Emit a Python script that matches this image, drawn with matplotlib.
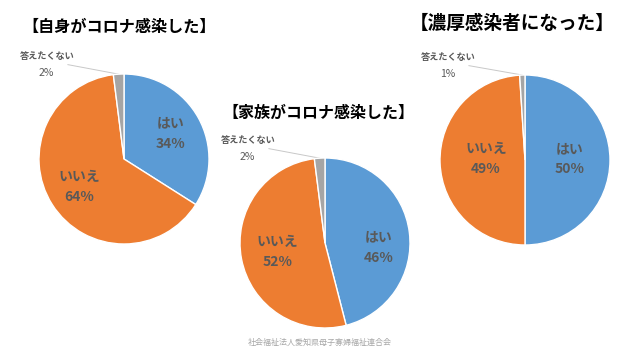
import matplotlib.pyplot as plt
import numpy as np

plt.rcParams['font.family'] = ['Noto Sans CJK JP', 'DejaVu Sans']

categories = ['はい', 'いいえ', '答えたくない']
titles = ['【自身がコロナ感染した】', '【家族がコロナ感染した】', '【濃厚感染者になった】']
values_self = [34, 64, 2]
values_family = [46, 52, 2]
values_close = [50, 49, 1]
footer = '社会福祉法人愛知県母子寡婦福祉連合会'

colors = ['#5B9BD5', '#ED7D31', '#A5A5A5']
label_color = '#595959'

W, H = 640, 360
fig = plt.figure(figsize=(W / 100, H / 100), dpi=100)
fig.patch.set_facecolor('white')

R = 85
# (center x, center y, title x, title y, title size) in pixels, y from top
layout = [
    (124, 159, 119, 27, 11.6),
    (325, 243, 318, 113, 11.5),
    (525, 160, 512, 23, 13.4),
]
# per-pie tweaks of inner label position (angle offset deg, radius)
inner_pos = [
    [(0, 0.62), (0, 0.62)],
    [(-12, 0.63), (0, 0.57)],
    [(1, 0.53), (-3, 0.46)],
]

for vals, title, (cx, cy, tx, ty, ts), ipos in zip(
        [values_self, values_family, values_close], titles, layout, inner_pos):
    ax = fig.add_axes([(cx - R) / W, (H - cy - R) / H, 2 * R / W, 2 * R / H])
    wedges, _ = ax.pie(vals, colors=colors, startangle=90, counterclock=False,
                       radius=1, wedgeprops=dict(edgecolor='white', linewidth=1))
    ax.set_xlim(-1, 1)
    ax.set_ylim(-1, 1)
    ax.set_aspect('auto')
    ax.axis('off')

    for i in range(2):
        w = wedges[i]
        mid = np.deg2rad((w.theta1 + w.theta2) / 2 + ipos[i][0])
        r = ipos[i][1]
        ax.text(r * np.cos(mid), r * np.sin(mid),
                f'{categories[i]}\n{vals[i]}%', ha='center', va='center',
                fontsize=10, fontweight='bold', color=label_color,
                linespacing=1.55)

    # small outside label with leader line
    w = wedges[2]
    mid = np.deg2rad((w.theta1 + w.theta2) / 2)
    ax.plot([-0.66, np.cos(mid)], [1.11, np.sin(mid)], color='#c8c8c8',
            lw=0.7, clip_on=False, zorder=0)
    ax.text(-0.9, 1.21, categories[2], ha='center', va='center',
            fontsize=6.6, fontweight='bold', color=label_color)
    ax.text(-0.91, 1.015, f'{vals[2]}%', ha='center', va='center',
            fontsize=7.5, color=label_color)

    fig.text(tx / W, 1 - ty / H, title, ha='center', va='center',
             fontsize=ts, fontweight='bold', color='black')

fig.text(320 / W, 1 - 342 / H, footer, ha='center', va='center',
         fontsize=5.8, color='#a6a6a6')

fig.savefig('out.png', dpi=100)
